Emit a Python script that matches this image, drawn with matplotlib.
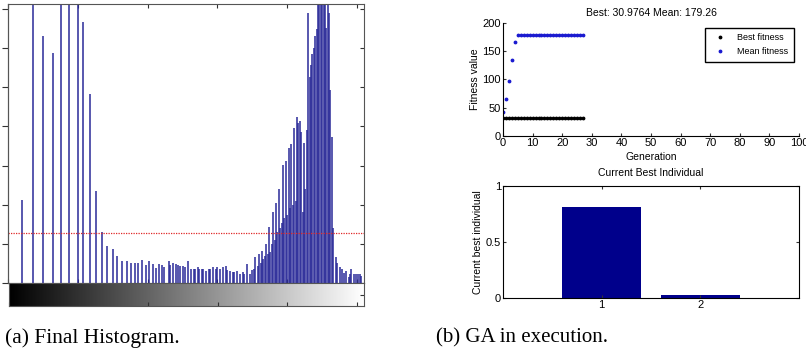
#!/usr/bin/env python3
"""Final histogram (left) and GA progress panels (right)."""
import numpy as np
import matplotlib
matplotlib.use("Agg")
import matplotlib.pyplot as plt
from matplotlib.lines import Line2D

# --- left panel: histogram stems (bin, count in thousands) ---
HIST_BINS = [
    10, 18, 25, 32, 38, 44, 50, 54, 59, 63, 67, 71, 75, 78, 82, 85, 88, 91, 93, 96,
    99, 101, 104, 106, 108, 110, 112, 115, 116, 118, 120, 122, 123, 125, 127, 129,
    131, 133, 134, 136, 137, 139, 140, 142, 144, 145, 147, 149, 150, 152, 154, 156,
    157, 159, 161, 162, 164, 166, 168, 169, 171, 173, 175, 176, 177, 179, 180, 181,
    182, 183, 184, 185, 186, 187, 188, 189, 190, 191, 192, 193, 194, 195, 196, 197,
    198, 199, 200, 201, 202, 203, 204, 205, 206, 207, 208, 209, 210, 211, 212, 213,
    214, 215, 216, 217, 218, 219, 220, 221, 222, 223, 224, 225, 226, 227, 228, 229,
    230, 231, 232, 233, 235, 236, 238, 239, 241, 242, 244, 245, 246, 248, 249, 251,
    252, 253,
]
HIST_COUNTS = [
    2.12, 9.0, 6.32, 5.89, 9.0, 9.0, 9.0, 6.68, 4.83, 2.36, 1.30, 0.95, 0.86, 0.69,
    0.55, 0.56, 0.52, 0.50, 0.50, 0.58, 0.45, 0.55, 0.48, 0.39, 0.48, 0.45, 0.41,
    0.55, 0.47, 0.50, 0.48, 0.45, 0.44, 0.44, 0.41, 0.55, 0.37, 0.37, 0.37, 0.41,
    0.35, 0.37, 0.35, 0.31, 0.37, 0.35, 0.41, 0.37, 0.41, 0.37, 0.41, 0.43, 0.33,
    0.31, 0.29, 0.29, 0.31, 0.24, 0.29, 0.24, 0.48, 0.24, 0.33, 0.37, 0.66, 0.43,
    0.74, 0.50, 0.83, 0.62, 0.70, 1.00, 0.75, 1.44, 0.79, 1.00, 1.81, 1.10, 2.05,
    1.30, 2.40, 1.41, 1.54, 3.02, 1.65, 3.13, 1.75, 3.44, 1.92, 3.55, 2.00, 3.96,
    2.10, 4.25, 4.10, 4.15, 3.87, 1.82, 3.57, 2.40, 3.91, 6.91, 5.26, 5.58, 5.86,
    6.00, 6.32, 6.50, 9.0, 9.0, 9.0, 9.0, 9.0, 9.0, 6.51, 9.0, 6.90, 4.94, 3.74,
    1.41, 0.66, 0.52, 0.42, 0.35, 0.26, 0.30, 0.16, 0.24, 0.35, 0.22, 0.24, 0.24,
    0.22, 0.18,
]
THRESHOLD = 1.27
HIST_XTICKS = [0, 50, 100, 150, 200, 250]
HIST_YTICKS = [0, 1, 2, 3, 4, 5, 6, 7]

# --- right panel: GA progress ---
GENERATIONS = list(range(28))
BEST_FITNESS = [31] * 28
MEAN_FITNESS = [43, 65, 97, 134, 166, 178.5, 179.26, 179.26, 179.26, 179.26,
                179.26, 179.26, 179.26, 179.26, 179.26, 179.26, 179.26, 179.26,
                179.26, 179.26, 179.26, 179.26, 179.26, 179.26, 179.26, 179.26,
                179.26, 179.26]
INDIVIDUAL_IDX = [1, 2]
INDIVIDUAL_VAL = [0.81, 0.03]

SANS = ["Liberation Sans Narrow", "Liberation Sans", "DejaVu Sans"]
plt.rcParams.update({"font.family": SANS, "font.size": 7.5})

W, H = 806, 355
fig = plt.figure(figsize=(W / 100, H / 100), dpi=100)


def box(x0, y0, x1, y1):
    """pixel box (top-left origin) -> figure fraction rect"""
    return [x0 / W, 1 - y1 / H, (x1 - x0) / W, (y1 - y0) / H]


# histogram
axh = fig.add_axes(box(8, 4, 364, 283))
axh.vlines(HIST_BINS, 0, HIST_COUNTS, color="#2a2a98", lw=1.1)
axh.axhline(THRESHOLD, color="#e02828", lw=0.9, ls=(0, (1, 1)))
axh.set_xlim(0, 255)
axh.set_ylim(0, 7.13)
axh.set_xticks(HIST_XTICKS)
axh.set_yticks(HIST_YTICKS)
axh.tick_params(direction="in", length=3, top=True, bottom=True, left=False, right=True,
                labelbottom=False, labelleft=False, color="#333333")
sec = axh.secondary_yaxis("left")
sec.set_yticks(HIST_YTICKS)
sec.tick_params(direction="out", length=4, labelleft=False, color="#333333")
for sp in list(axh.spines.values()) + list(sec.spines.values()):
    sp.set_color("#555555")

# grayscale bar
axg = fig.add_axes(box(9, 283, 364, 306))
axg.imshow(np.arange(256).reshape(1, -1), cmap="gray", aspect="auto",
           extent=[0, 255, 0, 1], vmin=0, vmax=255)
axg.set_xticks(HIST_XTICKS)
axg.set_yticks([0.5])
axg.tick_params(direction="in", length=3, left=False, right=True, bottom=True,
                labelbottom=False, labelleft=False, color="#333333")
for sp in axg.spines.values():
    sp.set_color("#555555")

# fitness plot
axf = fig.add_axes(box(503, 23, 799, 136))
axf.plot(GENERATIONS, BEST_FITNESS, ".", color="black", ms=3.5)
axf.plot(GENERATIONS, MEAN_FITNESS, ".", color="#1a1ad0", ms=3.5)
axf.set_xlim(0, 100)
axf.set_ylim(0, 200)
axf.set_xticks(range(0, 101, 10))
axf.set_yticks(range(0, 201, 50))
axf.spines[["top", "right"]].set_visible(False)
axf.tick_params(direction="in", length=2.5, labelsize=8, pad=1.5, color="#333333")
axf.set_xlabel("Generation", fontsize=7.5, labelpad=2.5)
axf.set_ylabel("Fitness value", fontsize=7.5, labelpad=2)
axf.set_title("Best: 30.9764 Mean: 179.26", fontsize=7.5, pad=5)
handles = [Line2D([], [], ls="", marker=".", color="black", ms=3.5),
           Line2D([], [], ls="", marker=".", color="#1a1ad0", ms=3.5)]
axf.legend(handles, ["Best fitness", "Mean fitness"], loc="upper right",
           bbox_to_anchor=(0.983, 0.956), borderaxespad=0, fancybox=False,
           edgecolor="black", fontsize=6.5, handlelength=2.2, labelspacing=0.55,
           borderpad=0.6, framealpha=1)

# current best individual
axb = fig.add_axes(box(503, 186, 799, 298))
axb.bar(INDIVIDUAL_IDX, INDIVIDUAL_VAL, width=0.8, color="#00008b")
axb.set_xlim(0, 3)
axb.set_ylim(0, 1)
axb.set_xticks(INDIVIDUAL_IDX)
axb.set_yticks([0, 0.5, 1])
axb.set_yticklabels(["0", "0.5", "1"])
axb.tick_params(direction="in", length=2.5, labelsize=8, pad=1.5, top=True, right=True,
                color="#333333")
axb.set_ylabel("Current best individual", fontsize=7.5, labelpad=2)
axb.set_title("Current Best Individual", fontsize=7.5, pad=7)

# captions
fig.text(5 / W, 1 - 338 / H, "(a) Final Histogram.", family="Liberation Serif",
         fontsize=15.5, va="center", ha="left")
fig.text(436 / W, 1 - 338 / H, "(b) GA in execution.", family="Liberation Serif",
         fontsize=15, va="center", ha="left")

fig.savefig("out.png", dpi=100)
